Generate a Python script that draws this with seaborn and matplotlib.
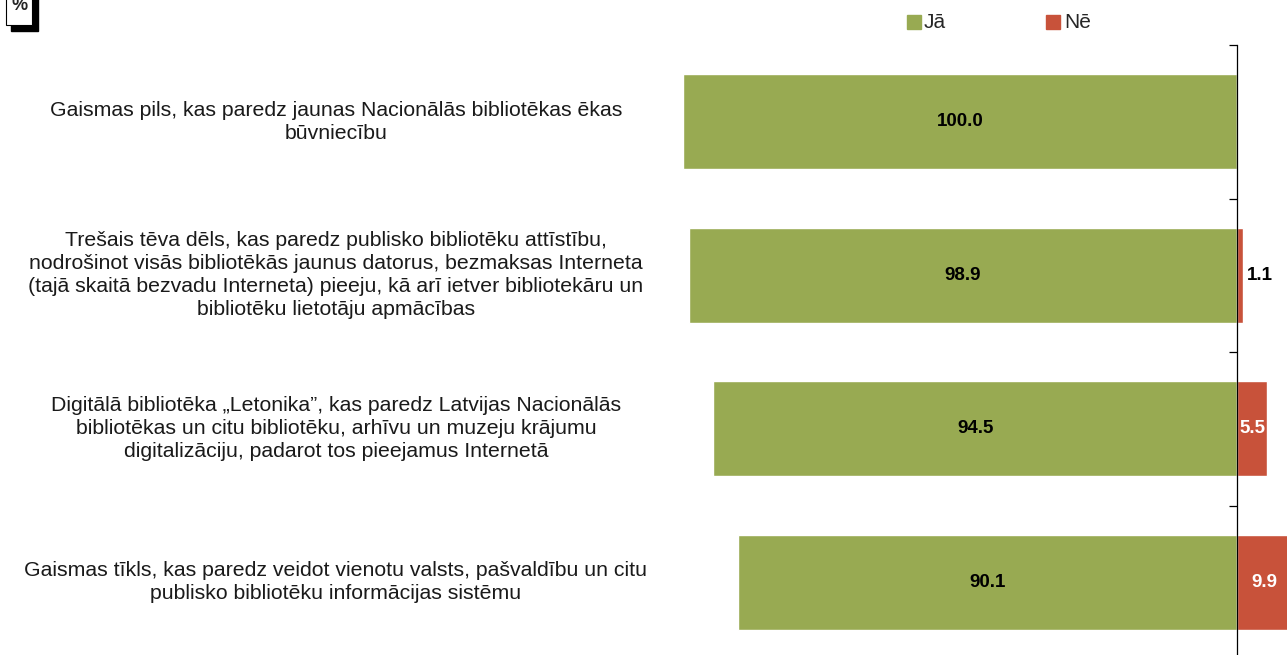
import matplotlib
matplotlib.use("Agg")
import matplotlib.pyplot as plt
import matplotlib.transforms as mtransforms
from matplotlib.patches import Rectangle
import pandas as pd
import seaborn as sns

categories = [
    "Gaismas pils, kas paredz jaunas Nacionālās bibliotēkas ēkas\nbūvniecību",
    "Trešais tēva dēls, kas paredz publisko bibliotēku attīstību,\nnodrošinot visās bibliotēkās jaunus datorus, bezmaksas Interneta\n(tajā skaitā bezvadu Interneta) pieeju, kā arī ietver bibliotekāru un\nbibliotēku lietotāju apmācības",
    "Digitālā bibliotēka „Letonika”, kas paredz Latvijas Nacionālās\nbibliotēkas un citu bibliotēku, arhīvu un muzeju krājumu\ndigitalizāciju, padarot tos pieejamus Internetā",
    "Gaismas tīkls, kas paredz veidot vienotu valsts, pašvaldību un citu\npublisko bibliotēku informācijas sistēmu",
]
ja = [100.0, 98.9, 94.5, 90.1]
ne = [0.0, 1.1, 5.5, 9.9]

green = "#98AA52"
red = "#C8523A"

sns.set_style("white")
plt.rcParams["font.family"] = ["Liberation Sans", "DejaVu Sans"]

df = pd.DataFrame({"cat": [str(i) for i in range(len(categories))],
                   "ja": [-v for v in ja], "ne": ne})

fig = plt.figure(figsize=(12.87, 6.55), dpi=100)
W, H = 1287, 655
ax = fig.add_axes([683 / W, (H - 659) / H, (W - 683) / W, 614 / H])

sns.barplot(data=df, x="ja", y="cat", color=green, width=0.62,
            saturation=1, orient="h", ax=ax)
sns.barplot(data=df, x="ne", y="cat", color=red, width=0.62,
            saturation=1, orient="h", ax=ax)

ax.set_xlim(-100, (W - 1237) / 5.54)
ax.set_ylim(len(categories) - 0.5, -0.5)
ax.set_xlabel("")
ax.set_ylabel("")
ax.set_xticks([])
for s in ["top", "right", "bottom"]:
    ax.spines[s].set_visible(False)
ax.spines["left"].set_position(("data", 0))
ax.spines["left"].set_color("black")
ax.spines["left"].set_linewidth(0.9)
ax.set_yticks([i - 0.5 for i in range(len(categories) + 1)])
ax.set_yticklabels([])
ax.tick_params(axis="y", direction="out", length=6, width=0.9, color="black", left=True)

# value labels
for i, (a, b) in enumerate(zip(ja, ne)):
    ax.text(-a / 2, i, f"{a:.1f}", ha="center", va="center",
            fontsize=13.5, fontweight="bold", color="black")
    if b == 0:
        continue
    if b < 3:
        ax.text(b + 3.0, i, f"{b:.1f}", ha="center", va="center",
                fontsize=13.5, fontweight="bold", color="black")
    else:
        ax.text(min(b / 2, 4.9), i, f"{b:.1f}", ha="center", va="center",
                fontsize=13.5, fontweight="bold", color="white", clip_on=False)

# category labels
trans = mtransforms.blended_transform_factory(fig.transFigure, ax.transData)
for i, c in enumerate(categories):
    fig.text(336 / W, i, c, transform=trans, ha="center", va="center",
             fontsize=15.3, linespacing=1.26, color="#1a1a1a")

# legend
fig.patches.append(Rectangle((907 / W, 1 - 29 / H), 14 / W, 14 / H,
                             transform=fig.transFigure, color=green))
fig.text(924 / W, 1 - 22 / H, "Jā", fontsize=15, va="center")
fig.patches.append(Rectangle((1046 / W, 1 - 29 / H), 14 / W, 14 / H,
                             transform=fig.transFigure, color=red))
fig.text(1064 / W, 1 - 22 / H, "Nē", fontsize=15, va="center")

# "%" box with shadow
fig.patches.append(Rectangle((11 / W, 1 - 31 / H), 27 / W, 40 / H,
                             transform=fig.transFigure, color="black"))
fig.patches.append(Rectangle((6 / W, 1 - 25 / H), 26 / W, 40 / H,
                             transform=fig.transFigure, facecolor="white",
                             edgecolor="black", linewidth=0.8))
fig.text(20 / W, 1 - 6 / H, "%", fontsize=13, fontweight="bold",
         ha="center", va="center")

fig.savefig("out.png", dpi=100)
